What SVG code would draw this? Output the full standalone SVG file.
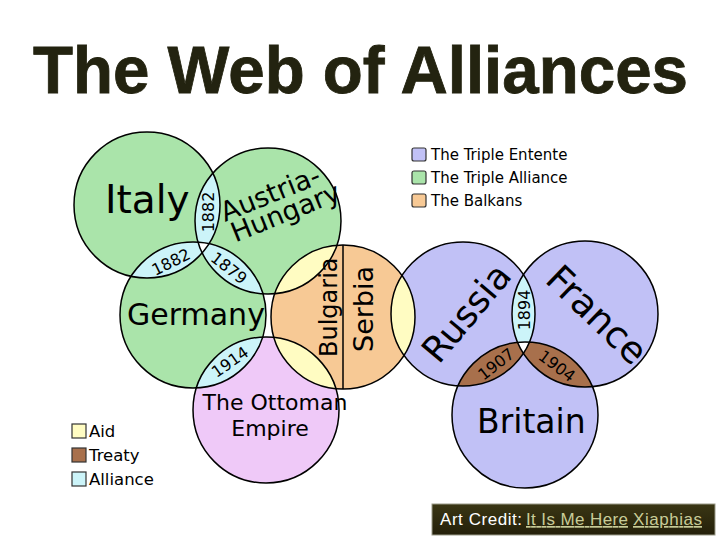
<svg xmlns="http://www.w3.org/2000/svg" width="720" height="540" viewBox="0 0 720 540">
<style>
.c{stroke:none}
.o{fill:none;stroke:#000;stroke-width:1.5}
.g{fill:#aae4aa}.b{fill:#c1c1f6}.k{fill:#f7c995}.p{fill:#efc9f8}
.al{fill:#ccf4f9}.tr{fill:#a8704c}.ai{fill:#fffcc2}.w{fill:#fff}
.lab{font-family:"DejaVu Sans",sans-serif;fill:#000}
.yr{font-family:"DejaVu Sans",sans-serif;font-size:16px;fill:#000;text-anchor:middle}
.leg{font-family:"DejaVu Sans",sans-serif;fill:#000}
.box{stroke:#333;stroke-width:1.2}
</style>
<defs>
<clipPath id="cIt"><circle cx="147" cy="205" r="73"/></clipPath>
<clipPath id="cAu"><circle cx="268" cy="221" r="73"/></clipPath>
<clipPath id="cGe"><circle cx="193" cy="315" r="73"/></clipPath>
<clipPath id="cBa"><circle cx="343" cy="317" r="72"/></clipPath>
<clipPath id="cOt"><circle cx="266" cy="410" r="73"/></clipPath>
<clipPath id="cRu"><circle cx="463" cy="314" r="72"/></clipPath>
<clipPath id="cFr"><circle cx="585" cy="314" r="73"/></clipPath>
<clipPath id="cBr"><circle cx="525" cy="415" r="73"/></clipPath>
<linearGradient id="cred" x1="0" y1="0" x2="0" y2="1">
<stop offset="0" stop-color="#3a3614"/><stop offset="1" stop-color="#24200a"/>
</linearGradient>
</defs>
<rect width="720" height="540" fill="#fff"/>
<text x="33" y="93" font-family="Liberation Sans,Arial,sans-serif" font-weight="bold" font-size="66" fill="#232310" stroke="#232310" stroke-width="0.8" textLength="655" lengthAdjust="spacingAndGlyphs">The Web of Alliances</text>

<g id="fills">
<circle class="c g" cx="147" cy="205" r="73"/>
<circle class="c g" cx="268" cy="221" r="73"/>
<circle class="c g" cx="193" cy="315" r="73"/>
<circle class="c k" cx="343" cy="317" r="72"/>
<circle class="c p" cx="266" cy="410" r="73"/>
<circle class="c b" cx="463" cy="314" r="72"/>
<circle class="c b" cx="585" cy="314" r="73"/>
<circle class="c b" cx="525" cy="415" r="73"/>
</g>

<g id="overlaps">
<g clip-path="url(#cIt)"><circle class="al" cx="268" cy="221" r="73"/><circle class="al" cx="193" cy="315" r="73"/></g>
<g clip-path="url(#cAu)"><circle class="al" cx="193" cy="315" r="73"/></g>
<g clip-path="url(#cIt)"><g clip-path="url(#cAu)"><circle class="w" cx="193" cy="315" r="73"/></g></g>
<g clip-path="url(#cGe)"><circle class="al" cx="266" cy="410" r="73"/></g>
<g clip-path="url(#cBa)"><circle class="ai" cx="268" cy="221" r="73"/><circle class="ai" cx="266" cy="410" r="73"/><circle class="ai" cx="463" cy="314" r="72"/></g>
<g clip-path="url(#cRu)"><circle class="al" cx="585" cy="314" r="73"/><circle class="tr" cx="525" cy="415" r="73"/></g>
<g clip-path="url(#cFr)"><circle class="tr" cx="525" cy="415" r="73"/></g>
<g clip-path="url(#cRu)"><g clip-path="url(#cFr)"><circle class="w" cx="525" cy="415" r="73"/></g></g>
</g>

<g id="connectors">
<line x1="343" y1="245" x2="343" y2="389" stroke="#000" stroke-width="1.5"/>
</g>

<g id="italy"><circle class="o" cx="147" cy="205" r="73"/>
<text class="lab" x="105" y="213" font-size="39">Italy</text></g>
<g id="austria-hungary"><circle class="o" cx="268" cy="221" r="73"/>
<g transform="translate(225,222) rotate(-22)"><text class="lab" font-size="27" x="0" y="0">Austria-</text><text class="lab" font-size="27" x="2" y="23">Hungary</text></g></g>
<g id="germany"><circle class="o" cx="193" cy="315" r="73"/>
<text class="lab" x="127" y="325" font-size="30">Germany</text></g>
<g id="balkans"><circle class="o" cx="343" cy="317" r="72"/>
<text class="lab" font-size="24" transform="translate(337,357) rotate(-90)">Bulgaria</text>
<text class="lab" font-size="27" transform="translate(373,352) rotate(-90)">Serbia</text></g>
<g id="ottoman"><circle class="o" cx="266" cy="410" r="73"/>
<text class="lab" font-size="22" text-anchor="middle" x="275" y="410">The Ottoman</text>
<text class="lab" font-size="22" text-anchor="middle" x="270" y="436">Empire</text></g>
<g id="russia"><circle class="o" cx="463" cy="314" r="72"/>
<text class="lab" font-size="36" text-anchor="middle" transform="translate(476,321) rotate(-50)">Russia</text></g>
<g id="france"><circle class="o" cx="585" cy="314" r="73"/>
<text class="lab" font-size="37" text-anchor="middle" transform="translate(588,324) rotate(44)">France</text></g>
<g id="britain"><circle class="o" cx="525" cy="415" r="73"/>
<text class="lab" x="477" y="433" font-size="33">Britain</text></g>

<g id="years">
<text class="yr" dy="0.35em" transform="translate(208,212) rotate(-90)">1882</text>
<text class="yr" dy="0.35em" transform="translate(171,262) rotate(-26)">1882</text>
<text class="yr" dy="0.35em" transform="translate(229,268) rotate(38)">1879</text>
<text class="yr" dy="0.35em" transform="translate(230,362) rotate(-35)">1914</text>
<text class="yr" dy="0.35em" transform="translate(524,310) rotate(-90)">1894</text>
<text class="yr" dy="0.35em" transform="translate(496,364) rotate(-38)">1907</text>
<text class="yr" dy="0.35em" transform="translate(557,366) rotate(37)">1904</text>
</g>

<g id="legend-blocs">
<rect class="box" x="412" y="148" width="14" height="13" rx="2" fill="#c1c1f6"/>
<rect class="box" x="412" y="171" width="14" height="13" rx="2" fill="#aae4aa"/>
<rect class="box" x="412" y="194" width="14" height="13" rx="2" fill="#f7c995"/>
<text class="leg" font-size="15" x="431" y="160">The Triple Entente</text>
<text class="leg" font-size="15" x="431" y="183">The Triple Alliance</text>
<text class="leg" font-size="15" x="431" y="206">The Balkans</text>
</g>
<g id="legend-links">
<rect class="box" x="72" y="424" width="14" height="14" fill="#fffcc2"/>
<rect class="box" x="72" y="448" width="14" height="14" fill="#a8704c"/>
<rect class="box" x="72" y="472" width="14" height="14" fill="#ccf4f9"/>
<text class="leg" font-size="16.5" x="89" y="437">Aid</text>
<text class="leg" font-size="16.5" x="89" y="461">Treaty</text>
<text class="leg" font-size="16.5" x="89" y="485">Alliance</text>
</g>

<g id="credit">
<rect x="432" y="504" width="283" height="31" fill="url(#cred)" stroke="#9a9a88" stroke-width="1"/>
<text font-family="Liberation Sans,Arial,sans-serif" font-size="17" y="525">
<tspan x="440" fill="#fff" textLength="82">Art Credit:</tspan>
<tspan x="526" fill="#c8cc98" text-decoration="underline" textLength="102">It Is Me Here</tspan>
<tspan x="633" fill="#c8cc98" text-decoration="underline" textLength="69">Xiaphias</tspan>
</text>
</g>
</svg>
